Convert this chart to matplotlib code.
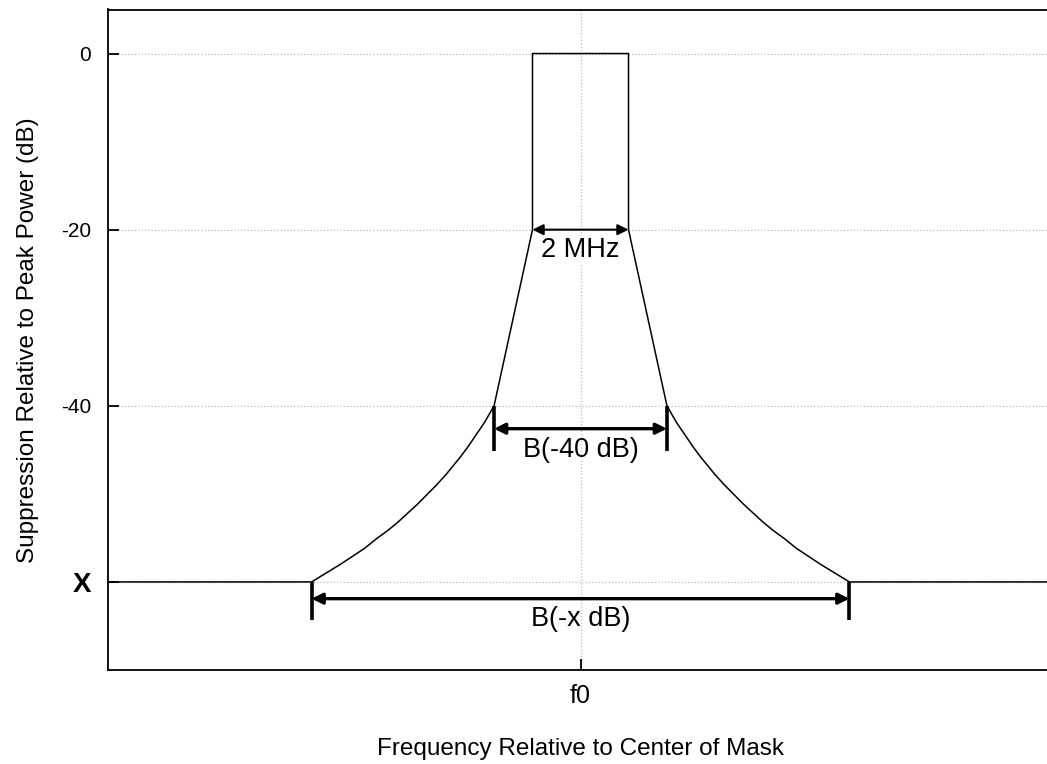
import matplotlib.pyplot as plt

plt.rcParams['font.family'] = ['Liberation Sans', 'DejaVu Sans']

# spectrum mask, right half (MHz from f0, dB); left half is the mirror image
half_freq = [1.0, 1.0, 1.8, 1.9, 2.0, 2.1, 2.2, 2.35, 2.5, 2.65, 2.8, 3.0, 3.2, 3.4,
             3.6, 3.8, 4.0, 4.25, 4.5, 4.75, 5.0, 5.3, 5.6, 9.84]
half_db = [0, -20, -40, -40.95, -41.9, -42.7, -43.5, -44.7, -45.8, -46.8, -47.8, -49.0,
           -50.1, -51.2, -52.2, -53.2, -54.1, -55.1, -56.2, -57.1, -58.0, -59.0, -60, -60]

ytick_vals = [0, -20, -40, -60]
ytick_labels = ['0', '-20', '-40', 'X']

# bandwidth markers: (half width, level, bar bottom, label)
markers = [(1.0, -20, None, '2 MHz'),
           (1.8, -42.6, -45.1, 'B(-40 dB)'),
           (5.6, -61.9, -64.3, 'B(-x dB)')]
label_y = [-22.3, -45.0, -64.2]

mask_x = [-f for f in half_freq[::-1]] + half_freq
mask_y = half_db[::-1] + half_db

fig = plt.figure(figsize=(10.47, 7.64), dpi=100)
ax = fig.add_axes([108 / 1047, 94 / 764, (1053 - 108) / 1047, (670 - 9.5) / 764])

ax.plot(mask_x, mask_y, color='black', lw=1.1, zorder=3)

for (hw, lvl, bottom, txt), ty in zip(markers, label_y):
    thick = 1.5 if bottom is None else 2.4
    ax.annotate('', xy=(hw, lvl), xytext=(-hw, lvl),
                arrowprops=dict(arrowstyle='<|-|>', color='black', lw=thick,
                                mutation_scale=16, shrinkA=0, shrinkB=0),
                zorder=4)
    if bottom is not None:
        top = -40 if txt.startswith('B(-40') else -60
        ax.vlines([-hw, hw], bottom, top, color='black', lw=2.6, zorder=4)
    ax.text(0, ty, txt, ha='center', va='center', fontsize=19.5, zorder=5,
            bbox=dict(facecolor='white', edgecolor='none', pad=0.5) if bottom is None else None)

ax.set_xlim(-9.84, 9.84)
ax.set_ylim(-70, 5)
ax.set_yticks(ytick_vals)
ax.set_yticklabels(ytick_labels, fontsize=15)
ax.get_yticklabels()[-1].set_fontweight('bold')
ax.get_yticklabels()[-1].set_fontsize(20)
ax.set_xticks([0])
ax.set_xticklabels(['f0'], fontsize=18)
ax.tick_params(direction='in', length=8, width=1.3, pad=12)
ax.tick_params(axis='x', pad=10)

ax.grid(True, color='#bbbbbb', linestyle=':', lw=0.9, zorder=0)
for s in ax.spines.values():
    s.set_linewidth(1.3)

ax.set_xlabel('Frequency Relative to Center of Mask', fontsize=17.5, labelpad=22)
ax.set_ylabel('Suppression Relative to Peak Power (dB)', fontsize=17.5, labelpad=16)

fig.savefig('out.png', dpi=100)
